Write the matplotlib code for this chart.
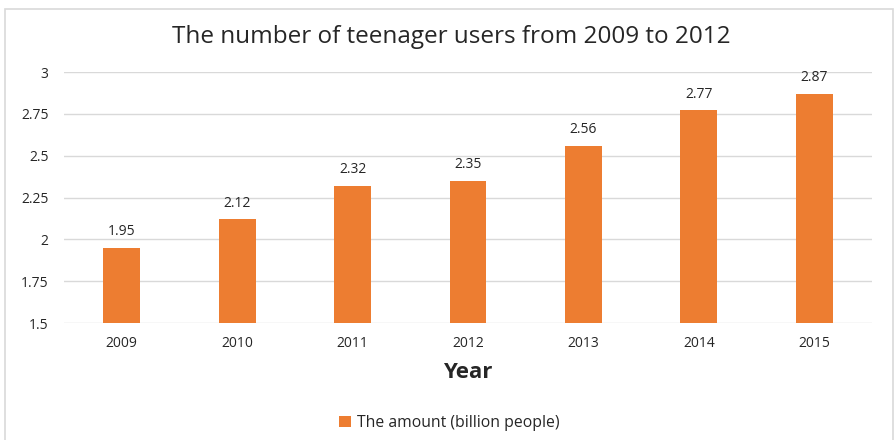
import matplotlib
matplotlib.use("Agg")
import matplotlib.pyplot as plt
from matplotlib.patches import Rectangle

years = ["2009", "2010", "2011", "2012", "2013", "2014", "2015"]
amounts = [1.95, 2.12, 2.32, 2.35, 2.56, 2.77, 2.87]
y_ticks = [1.5, 1.75, 2, 2.25, 2.5, 2.75, 3]
y_tick_labels = ["1.5", "1.75", "2", "2.25", "2.5", "2.75", "3"]

plt.rcParams["font.family"] = ["Open Sans", "DejaVu Sans"]
bar_color = "#ED7D31"
text_color = "#262626"
grid_color = "#D9D9D9"

fig = plt.figure(figsize=(8.94, 4.40), dpi=100)
fig.patch.set_facecolor("white")

# light frame around the chart area
fig.add_artist(Rectangle((5 / 894, -0.05), 888 / 894, 1.05 - 9 / 440,
                         transform=fig.transFigure, fill=False,
                         edgecolor=grid_color, linewidth=1.2))

ax = fig.add_axes([64 / 894, 1 - 323 / 440, (872 - 64) / 894, (323 - 72) / 440])
x = range(len(years))
bars = ax.bar(x, amounts, width=0.32, color=bar_color, zorder=3,
              label="The amount (billion people)")

ax.set_ylim(1.5, 3)
ax.set_xlim(-0.5, len(years) - 0.5)
ax.set_yticks(y_ticks)
ax.set_yticklabels(y_tick_labels)
ax.set_xticks(list(x))
ax.set_xticklabels(years)
ax.grid(axis="y", color=grid_color, linewidth=1, zorder=0)
for s in ax.spines.values():
    s.set_visible(False)
ax.tick_params(length=0, labelsize=10, colors=text_color)
ax.tick_params(axis="y", pad=11)
ax.tick_params(axis="x", pad=9)

for i, v in enumerate(amounts):
    ax.annotate(f"{v:.2f}", (i, v), xytext=(0, 6), textcoords="offset points",
                ha="center", va="bottom", fontsize=10, color=text_color)

ax.set_xlabel("Year", fontsize=16, fontweight="bold", color=text_color, labelpad=8)

fig.text(451 / 894, 1 - 37 / 440, "The number of teenager users from 2009 to 2012",
         ha="center", va="center", fontsize=17.5, color=text_color)

fig.legend(handles=[bars], labels=["The amount (billion people)"],
           loc="center", bbox_to_anchor=(449 / 894, 1 - 423 / 440),
           frameon=False, fontsize=11.3, handlelength=0.77, handleheight=0.77,
           handletextpad=0.38, labelcolor=text_color)

fig.savefig("out.png", dpi=100, facecolor="white")
